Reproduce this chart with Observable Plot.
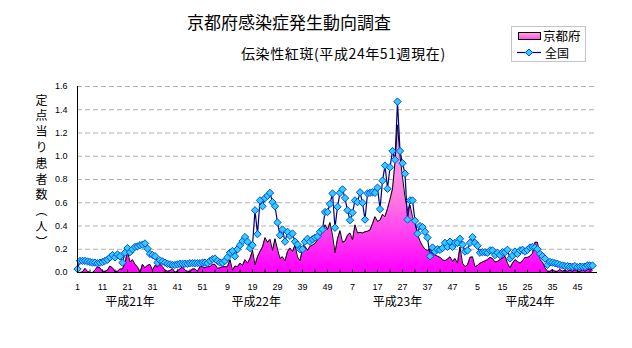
<!DOCTYPE html>
<html><head><meta charset="utf-8">
<script src="https://cdn.jsdelivr.net/npm/d3@7"></script>
<script src="https://cdn.jsdelivr.net/npm/@observablehq/plot@0.6"></script>
<style>
body{margin:0;background:#fff;}
#wrap{position:relative;width:632px;height:348px;overflow:hidden;font-family:"Noto Sans CJK JP",sans-serif;color:#000;}
#chart{position:absolute;left:0;top:0;}
.abs{position:absolute;white-space:nowrap;line-height:1;}
</style></head><body>
<div id="wrap">
  <div id="chart"></div>
  <div class="abs" style="left:187px;top:13px;font-size:17px;">京都府感染症発生動向調査</div>
  <div class="abs" style="left:241px;top:46px;font-size:14px;letter-spacing:0.6px;">伝染性紅斑(平成24年51週現在)</div>
  <div class="abs" style="left:35px;top:94px;font-size:12px;writing-mode:vertical-rl;letter-spacing:3.8px;">定点当り患者数（人）</div>
  <div class="abs" style="left:511px;top:26px;width:75px;height:36px;border:1px solid #c4c4c4;box-sizing:border-box;">
    <svg width="75" height="36" style="position:absolute;left:-1px;top:-1px">
      <defs><linearGradient id="lg" x1="0" y1="0" x2="0" y2="1"><stop offset="0" stop-color="#ffa8e8"/><stop offset="1" stop-color="#ff50dc"/></linearGradient></defs>
      <rect x="7.5" y="6.5" width="22" height="7" fill="url(#lg)" stroke="#000"/>
      <line x1="6" x2="30" y1="26.5" y2="26.5" stroke="#000080" stroke-width="1.2"/>
      <path d="M18,23L21.5,26.5L18,30L14.5,26.5Z" fill="#33ccff" stroke="#0050e0"/>
    </svg>
    <span class="abs" style="left:31px;top:3px;font-size:12.5px">京都府</span>
    <span class="abs" style="left:33px;top:19.5px;font-size:12px">全国</span>
  </div>
</div>
<script>
// 京都府 定点当り患者数 (H21-H24)
const kyotoH21 = [0,0,0.005,0.035,0.01,0,0,0.02,0.05,0.04,
  0.01,0.01,0.02,0.055,0.04,0.01,0.01,0.03,0.03,0.08,
  0.18,0.09,0.11,0.07,0.05,0,0.07,0.04,0.06,0.07,
  0.02,0.06,0.05,0.07,0.05,0.02,0.01,0.015,0.035,0,
  0.015,0.03,0.05,0.02,0.01,0.01,0.03,0.03,0.01,0.05,
  0.05,0.04];
const kyotoH22 = [0.05,0.05,0.07,0.07,0.035,0.04,0.05,0.05,0.05,0.11,
  0.02,0.055,0.05,0.08,0.06,0.11,0.08,0.12,0.19,0.065,
  0.135,0.18,0.22,0.30,0.26,0.285,0.19,0.29,0.20,0.12,
  0.135,0.10,0.18,0.21,0.18,0.235,0.135,0.10,0.20,0.225,
  0.19,0.225,0.235,0.25,0.28,0.31,0.36,0.41,0.37,0.43,
  0.32,0.17];
const kyotoH23 = [0.29,0.36,0.26,0.27,0.32,0.34,0.28,0.41,0.34,0.345,
  0.34,0.35,0.355,0.365,0.42,0.48,0.44,0.45,0.50,0.48,
  0.55,0.63,0.72,0.95,1.27,1.0,0.82,0.65,0.53,0.58,
  0.48,0.42,0.33,0.27,0.23,0.20,0.19,0.205,0.165,0.15,
  0.14,0.13,0.11,0.10,0.115,0.135,0.095,0.12,0.08,0.22,
  0.08,0.05];
const kyotoH24 = [0.065,0.13,0.135,0.05,0.06,0.08,0.09,0.10,0.11,0.13,
  0.12,0.09,0.095,0.11,0.125,0.14,0.08,0.04,0.08,0.11,
  0.095,0.08,0.10,0.13,0.13,0.14,0.165,0.26,0.26,0.11,
  0.09,0.04,0.01,0.01,0.025,0.01,0.01,0.025,0.01,0.02,
  0.01,0.02,0.01,0.025,0.01,0.01,0.025,0.01,0.025,0.035,
  0.02];
// 全国
const zenkokuH21 = [0.03,0.10,0.10,0.10,0.095,0.09,0.085,0.085,0.08,0.085,
  0.09,0.10,0.11,0.13,0.15,0.13,0.155,0.14,0.085,0.17,
  0.21,0.175,0.20,0.22,0.225,0.235,0.24,0.25,0.205,0.16,
  0.15,0.14,0.085,0.105,0.095,0.085,0.075,0.07,0.065,0.065,
  0.07,0.075,0.075,0.075,0.075,0.08,0.08,0.08,0.08,0.08,
  0.085,0.085];
const zenkokuH22 = [0.08,0.10,0.115,0.12,0.10,0.085,0.085,0.10,0.13,0.17,
  0.185,0.14,0.20,0.235,0.27,0.305,0.265,0.21,0.235,0.535,
  0.33,0.62,0.57,0.64,0.66,0.685,0.605,0.57,0.43,0.32,
  0.37,0.265,0.35,0.315,0.335,0.265,0.24,0.20,0.20,0.265,
  0.29,0.265,0.285,0.30,0.31,0.35,0.37,0.52,0.52,0.59,
  0.68,0.385];
const zenkokuH23 = [0.565,0.685,0.715,0.64,0.535,0.45,0.515,0.62,0.605,0.69,
  0.60,0.455,0.68,0.685,0.69,0.685,0.73,0.545,0.79,0.92,
  0.72,0.905,1.045,0.97,1.47,1.045,0.94,0.85,0.455,0.62,
  0.62,0.445,0.335,0.40,0.39,0.35,0.30,0.14,0.215,0.18,
  0.20,0.195,0.21,0.255,0.22,0.265,0.22,0.255,0.255,0.29,
  0.24,0.18];
const zenkokuH24 = [0.19,0.255,0.305,0.255,0.23,0.17,0.175,0.175,0.17,0.19,
  0.19,0.15,0.17,0.15,0.175,0.175,0.195,0.12,0.145,0.18,
  0.16,0.19,0.195,0.18,0.195,0.215,0.22,0.215,0.20,0.16,
  0.14,0.12,0.065,0.09,0.085,0.08,0.075,0.065,0.06,0.055,
  0.055,0.05,0.05,0.055,0.045,0.05,0.05,0.05,0.06,0.06,
  0.06];
const weekLabels = ["1","11","21","31","41","51","9","19","29","39","49","7","17","27","37","47","5","15","25","35","45"];
const yearLabels = ["平成21年","平成22年","平成23年","平成24年"];
const yTicks = [0,0.2,0.4,0.6,0.8,1.0,1.2,1.4,1.6];

const kyoto = [...kyotoH21, ...kyotoH22, ...kyotoH23, ...kyotoH24];
const zenkoku = [...zenkokuH21, ...zenkokuH22, ...zenkokuH23, ...zenkokuH24];
const data = kyoto.map((v, i) => ({i, kyoto: v, zenkoku: zenkoku[i]}));
const xTickPos = weekLabels.map((_, k) => k * 10);
const yearPos = [21, 71.5, 128, 181];
const yearData = yearLabels.map((label, k) => ({label, pos: yearPos[k]}));

const chart = Plot.plot({
  width: 632, height: 348,
  marginLeft: 77, marginRight: 35, marginTop: 86, marginBottom: 76,
  x: {domain: [0, 208], axis: null},
  y: {domain: [0, 1.6], axis: null},
  style: {fontFamily: "'Liberation Sans', Arial, sans-serif", fontSize: "9px", color: "#000", background: "transparent", overflow: "visible"},
  marks: [
    Plot.ruleY(yTicks.slice(1), {stroke: "#b0b0b0", strokeDasharray: "5,3"}),
    Plot.areaY(data, {x: "i", y: "kyoto", fill: "url(#kgrad)"}),
    Plot.lineY(data, {x: "i", y: "kyoto", stroke: "#000", strokeWidth: 1}),
    Plot.lineY(data, {x: "i", y: "zenkoku", stroke: "#000080", strokeWidth: 1.2}),
    Plot.dot(data, {x: "i", y: "zenkoku", symbol: "diamond2", r: 3.3, fill: "#33ccff", stroke: "#0050e0", strokeWidth: 1}),
    Plot.ruleY([0], {stroke: "#000"}),
    Plot.ruleX([0], {stroke: "#000"}),
    Plot.ruleX(d3.range(0, 207, 5), {y1: 0, y2: 0.022, stroke: "#000"}),
    Plot.axisY({ticks: yTicks, tickFormat: d => d.toFixed(1), tickSize: 0, tickPadding: 10}),
    Plot.axisX({ticks: xTickPos, tickFormat: d => weekLabels[d / 10], tickSize: 0, tickPadding: 11}),
    Plot.text(yearData, {x: "pos", y: () => 0, text: "label", dy: 30, fontSize: 12, fontFamily: "Noto Sans CJK JP"})
  ]
});
const defs = d3.select(chart).insert("defs", ":first-child");
const g = defs.append("linearGradient").attr("id", "kgrad")
  .attr("gradientUnits", "userSpaceOnUse").attr("x1", 0).attr("x2", 0).attr("y1", 110).attr("y2", 272);
g.append("stop").attr("offset", "0").attr("stop-color", "#ffb4ec");
g.append("stop").attr("offset", "0.55").attr("stop-color", "#ff78e2");
g.append("stop").attr("offset", "1").attr("stop-color", "#ff00ff");
document.getElementById("chart").appendChild(chart);
</script>
</body></html>
